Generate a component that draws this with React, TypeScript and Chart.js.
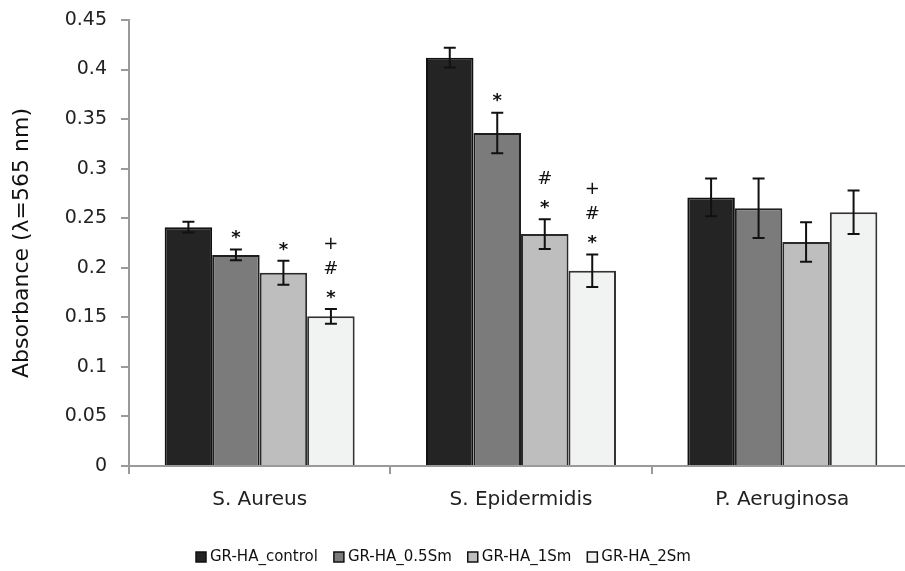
import React, { useEffect, useRef } from "react";
import { Chart, registerables } from "chart.js";

Chart.register(...registerables);

const categories = ["S. Aureus", "S. Epidermidis", "P. Aeruginosa"];
const seriesNames = ["GR-HA_control", "GR-HA_0.5Sm", "GR-HA_1Sm", "GR-HA_2Sm"];
const controlValues = [0.241, 0.412, 0.271];
const sm05Values = [0.213, 0.336, 0.26];
const sm1Values = [0.195, 0.234, 0.226];
const sm2Values = [0.151, 0.197, 0.256];
const controlErr = [0.0055, 0.01, 0.019];
const sm05Err = [0.0055, 0.0205, 0.03];
const sm1Err = [0.012, 0.015, 0.02];
const sm2Err = [0.0075, 0.0165, 0.022];
// significance marks, listed bottom-to-top
const controlMarks = [[], [], []];
const sm05Marks = [["*"], ["*"], []];
const sm1Marks = [["*"], ["*", "#"], []];
const sm2Marks = [["*", "#", "+"], ["*", "#", "+"], []];
const yTicks = [0, 0.05, 0.1, 0.15, 0.2, 0.25, 0.3, 0.35, 0.4, 0.45];

const fills = ["#242424", "#7b7b7b", "#bebebe", "#f1f3f3"];
const borders = ["#111111", "#1e1e1e", "#2a2a2a", "#333333"];
const FONT = "'DejaVu Sans', Verdana, sans-serif";

const values = [controlValues, sm05Values, sm1Values, sm2Values];
const errors = [controlErr, sm05Err, sm1Err, sm2Err];
const marks = [controlMarks, sm05Marks, sm1Marks, sm2Marks];

const errorBarPlugin = {
  id: "errorBars",
  afterDatasetsDraw(chart: any) {
    const ctx = chart.ctx;
    const y = chart.scales.y;
    ctx.save();
    chart.data.datasets.forEach((ds: any, di: number) => {
      const meta = chart.getDatasetMeta(di);
      meta.data.forEach((bar: any, i: number) => {
        const v = values[di][i];
        const e = errors[di][i];
        const yTop = y.getPixelForValue(v + e);
        const yBot = y.getPixelForValue(v - e);
        const x = bar.x;
        ctx.strokeStyle = "#111";
        ctx.lineWidth = 2;
        ctx.beginPath();
        ctx.moveTo(x, yTop);
        ctx.lineTo(x, yBot);
        ctx.moveTo(x - 6, yTop);
        ctx.lineTo(x + 6, yTop);
        ctx.moveTo(x - 6, yBot);
        ctx.lineTo(x + 6, yBot);
        ctx.stroke();
        const m = marks[di][i];
        ctx.fillStyle = "#111";
        ctx.textAlign = "center";
        ctx.textBaseline = "middle";
        m.forEach((s: string, k: number) => {
          const cy = yTop - 15 - k * 25;
          if (s === "*") {
            ctx.font = `bold 18px ${FONT}`;
            ctx.fillText(s, x, cy + 4);
          } else {
            ctx.font = `18px ${FONT}`;
            ctx.fillText(s, x, cy);
          }
        });
      });
    });
    ctx.restore();
  },
};

const legendPlugin = {
  id: "customLegend",
  afterDraw(chart: any) {
    const ctx = chart.ctx;
    ctx.save();
    ctx.font = `15px ${FONT}`;
    ctx.textBaseline = "middle";
    ctx.textAlign = "left";
    let x = 196;
    const cy = 557;
    chart.data.datasets.forEach((ds: any, i: number) => {
      ctx.fillStyle = fills[i];
      ctx.fillRect(x, cy - 5, 10, 10);
      ctx.strokeStyle = "#111";
      ctx.lineWidth = 1.5;
      ctx.strokeRect(x, cy - 5, 10, 10);
      ctx.fillStyle = "#111";
      ctx.fillText(ds.label, x + 14, cy);
      x += 14 + ctx.measureText(ds.label).width + 16;
    });
    ctx.restore();
  },
};

export default function App() {
  const ref = useRef<HTMLCanvasElement | null>(null);
  useEffect(() => {
    if (!ref.current) return;
    const chart = new Chart(ref.current, {
      type: "bar",
      data: {
        labels: categories,
        datasets: seriesNames.map((name, i) => ({
          label: name,
          data: values[i],
          backgroundColor: fills[i],
          borderColor: borders[i],
          borderWidth: 2,
          categoryPercentage: 0.727,
          barPercentage: 1,
        })),
      },
      options: {
        responsive: false,
        animation: false,
        devicePixelRatio: 1,
        layout: { padding: { left: 0, right: 2, top: 20, bottom: 55 } },
        plugins: {
          legend: { display: false },
          tooltip: { enabled: false },
        },
        scales: {
          x: {
            afterFit: (s: any) => {
              s.height = 50;
            },
            grid: {
              display: true,
              drawOnChartArea: false,
              offset: true,
              tickLength: 8,
              color: "#9a9a9a",
              lineWidth: 2,
            },
            border: { display: true, color: "#9a9a9a", width: 2 },
            ticks: {
              color: "#222",
              font: { family: FONT, size: 20 },
              padding: 14,
            },
          },
          y: {
            min: 0,
            max: 0.45,
            afterFit: (s: any) => {
              s.width = 129;
              s.paddingTop = 0;
              s.paddingBottom = 0;
            },
            afterBuildTicks: (s: any) => {
              s.ticks = yTicks.map((v) => ({ value: v }));
            },
            grid: {
              display: true,
              drawOnChartArea: false,
              tickLength: 8,
              color: "#9a9a9a",
              lineWidth: 2,
            },
            border: { display: true, color: "#9a9a9a", width: 2 },
            ticks: {
              color: "#222",
              font: { family: FONT, size: 19 },
              padding: 14,
              callback: (v: any) => String(Number(v)),
            },
            title: {
              display: true,
              text: "Absorbance (λ=565 nm)",
              color: "#111",
              font: { family: FONT, size: 22 },
              padding: { top: 9, bottom: 0 },
            },
          },
        },
      },
      plugins: [errorBarPlugin, legendPlugin],
    });
    return () => chart.destroy();
  }, []);
  return (
    <div
      style={{
        position: "absolute",
        left: 0,
        top: 0,
        width: 905,
        height: 571,
        overflow: "hidden",
        background: "#fff",
      }}
    >
      <canvas ref={ref} width={915} height={571} style={{ display: "block" }} />
    </div>
  );
}
